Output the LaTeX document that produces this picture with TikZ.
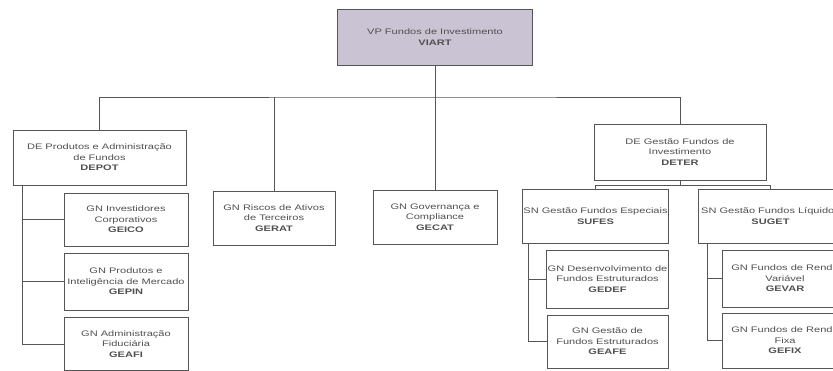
\documentclass[tikz,border=0pt]{standalone}
\usepackage{fontspec}
\setmainfont{Liberation Sans}[FakeStretch=1.38]
\usepackage{tikz}
\usetikzlibrary{positioning}
\definecolor{vpfill}{RGB}{201,195,212}
\definecolor{boxline}{RGB}{85,85,85}
\definecolor{boxtext}{RGB}{80,80,80}

\begin{document}
\begin{tikzpicture}[x=1pt,y=-1pt]
\useasboundingbox (0,0) rectangle (833,371);
\clip (0,0) rectangle (833,371);

\begin{scope}[every node/.style={draw=boxline,line width=0.8pt,fill=white,align=center,inner sep=1pt,text=boxtext,font=\fontsize{8}{10.5}\selectfont}]
\node [fill=vpfill, minimum width=195pt, minimum height=56pt] (viart) at (435,37) {VP Fundos de Investimento\\\textbf{VIART}};
\node [minimum width=173pt, minimum height=55pt] (depot) at (99.5,157.5) {DE Produtos e Administração\\de Fundos\\\textbf{DEPOT}};
\node [minimum width=122pt, minimum height=54pt] (gerat) at (274,218) {GN Riscos de Ativos\\de Terceiros\\\textbf{GERAT}};
\node [minimum width=124pt, minimum height=54pt] (gecat) at (435,217) {GN Governança e\\Compliance\\\textbf{GECAT}};
\node [minimum width=172pt, minimum height=56pt] (deter) at (680,152) {DE Gestão Fundos de\\Investimento\\\textbf{DETER}};
\node [minimum width=145pt, minimum height=54pt] (sufes) at (595.5,216) {SN Gestão Fundos Especiais\\\textbf{SUFES}};
\node [minimum width=145pt, minimum height=54pt] (suget) at (770.5,216) {SN Gestão Fundos Líquidos\\\textbf{SUGET}};
\node [minimum width=124pt, minimum height=53pt] (geico) at (126,219.5) {GN Investidores\\Corporativos\\\textbf{GEICO}};
\node [minimum width=124pt, minimum height=57pt] (gepin) at (126,281.5) {GN Produtos e\\Inteligência de Mercado\\\textbf{GEPIN}};
\node [minimum width=124pt, minimum height=53pt] (geafi) at (126,344) {GN Administração\\Fiduciária\\\textbf{GEAFI}};
\node [minimum width=121pt, minimum height=58pt] (gedef) at (607.5,279) {GN Desenvolvimento de\\Fundos Estruturados\\\textbf{GEDEF}};
\node [minimum width=121pt, minimum height=53pt] (geafe) at (607.5,341.5) {GN Gestão de\\Fundos Estruturados\\\textbf{GEAFE}};
\node [minimum width=126pt, minimum height=57pt] (gevar) at (785,278.5) {GN Fundos de Renda\\Variável\\\textbf{GEVAR}};
\node [minimum width=126pt, minimum height=55pt] (gefix) at (785,340.5) {GN Fundos de Renda\\Fixa\\\textbf{GEFIX}};
\end{scope}

\begin{scope}[draw=boxline, line width=0.8pt]

\coordinate (bus) at (435,97);
\draw (viart.south) -- (gecat.north);
\draw (depot.north) |- (bus) -| (deter.north);
\draw (gerat.north) -- (gerat.north |- bus);
\draw (deter.south) -- ++(0,5) -| (sufes.north);
\draw (deter.south) -- ++(0,5) -| (suget.north);
\draw ([xshift=10pt]depot.south west) |- (geico.west);
\draw ([xshift=10pt]depot.south west) |- (gepin.west);
\draw ([xshift=10pt]depot.south west) |- (geafi.west);
\draw ([xshift=6pt]sufes.south west) |- (gedef.west);
\draw ([xshift=6pt]sufes.south west) |- (geafe.west);
\draw ([xshift=10pt]suget.south west) |- (gevar.west);
\draw ([xshift=10pt]suget.south west) |- (gefix.west);

\end{scope}
\end{tikzpicture}
\end{document}
